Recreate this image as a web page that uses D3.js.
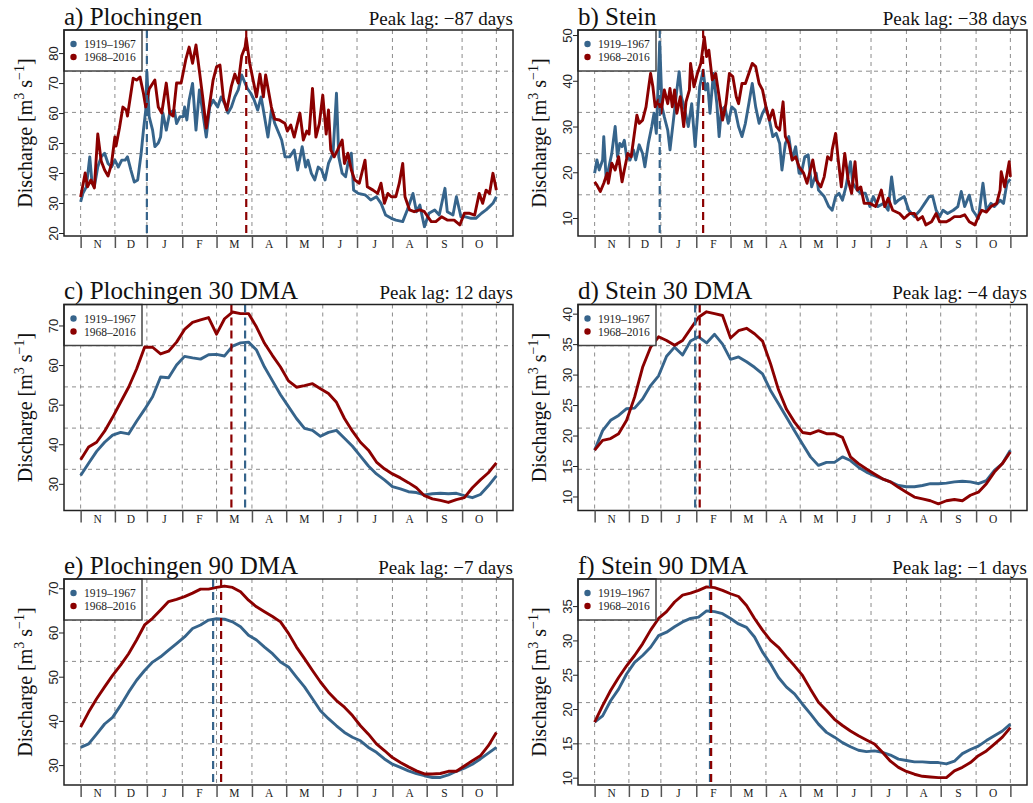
<!DOCTYPE html>
<html>
<head>
<meta charset="utf-8">
<script src="https://cdn.jsdelivr.net/npm/d3@7"></script>
<style>
  body { margin: 0; background: #fff; }
  svg { display: block; font-family: 'Liberation Serif', 'Times New Roman', serif; }
</style>
</head>
<body>
<svg id="chart" width="1033" height="803"></svg>
<script>
// hydrological year: day 1 = 1 Nov, day 365 = 31 Oct
const months = ['N', 'D', 'J', 'F', 'M', 'A', 'M', 'J', 'J', 'A', 'S', 'O'];
const monthBreaks = [1, 31, 59, 90, 120, 151, 181, 213, 243, 274, 304, 335, 365];
const periods = ['1919–1967', '1968–2016'];
const colors = ['#36648B', '#8B0000'];

// raw daily means, [day, discharge]
const plochRawEarly = [[1,30.4],[3,33.2],[6,35.4],[9,45.4],[11,36.6],[13,35.4],[16,42],[19,45.4],[22,46.6],[25,43.2],[28,42],[31,44.3],[34,42],[37,44.3],[40,44.3],[42,45.4],[45,41],[48,37],[51,37.7],[54,46.6],[56,54.3],[58,61],[59,73.8],[61,58.8],[64,54.3],[66,48.8],[69,50],[71,52],[73,60],[76,54.3],[79,60],[83,61],[85,56.5],[88,58.8],[91,58.8],[92,62],[94,57.7],[96,64.3],[99,69.9],[102,54.3],[105,67.7],[108,60],[111,52],[114,62],[117,64.3],[121,62],[124,65.4],[127,63.2],[130,60],[133,62],[136,65.4],[139,67.7],[142,72.7],[145,70],[147,68.2],[150,66.6],[153,64.3],[156,61],[159,65.4],[162,58.8],[165,52],[168,61],[171,56.5],[177,51],[180,45.4],[184,45.4],[188,47.7],[191,41],[195,48.8],[198,42],[200,44.3],[203,39.9],[206,37.7],[209,42],[212,41],[215,37.7],[218,43.2],[222,46.6],[225,66.6],[227,45.4],[230,39.9],[233,38.8],[235,43.2],[238,46.6],[240,34.3],[244,33.2],[250,32.7],[252,32.1],[255,31],[260,32.1],[264,29.9],[268,26],[273,24.9],[277,24.3],[283,23.8],[287,27.7],[292,33.2],[295,27.1],[298,29.3],[302,22.1],[306,26.6],[311,27.7],[315,26],[320,34.9],[322,27.1],[327,26],[330,32.1],[334,25.4],[338,25.4],[343,24.9],[347,24.9],[352,26.6],[356,27.7],[359,28.8],[362,29.9],[365,32.1]];
const plochRawLate = [[1,32],[5,40],[7,35.4],[10,37.7],[13,35],[16,53],[19,44],[22,41],[25,39],[28,43],[31,52],[32,49],[35,55],[38,62],[41,61],[42,59],[47,71.6],[50,71],[53,72],[56,66.6],[58,62],[61,68],[66,71],[69,62],[72,60],[76,70],[79,60],[82,59],[85,70],[89,70],[93,77.7],[96,82],[99,76.6],[102,82.7],[105,74],[108,65],[111,55],[114,63],[117,71],[120,75.4],[123,76],[126,65],[129,61],[133,69],[136,73],[139,70],[142,79],[145,82],[146,85],[149,76.6],[152,71],[155,65.4],[158,73],[161,65.4],[163,72.7],[168,62],[171,58],[175,57.7],[180,56.5],[182,54],[185,56],[188,52],[193,60],[196,51],[199,54],[201,53],[204,68.2],[207,52],[210,56.5],[213,66],[216,53],[218,61],[220,47.7],[223,45.4],[226,47.7],[230,51],[232,43.2],[235,46.6],[238,41],[241,37.7],[245,36.6],[250,44.3],[252,35.4],[257,34.3],[261,33.2],[264,36.6],[267,29.9],[270,33.2],[273,32.1],[277,32.1],[280,36.6],[283,43.2],[285,32.1],[289,27.7],[293,27.1],[298,27.7],[302,27.1],[305,25.4],[308,23.8],[312,23.8],[317,25.4],[322,24.3],[325,24.3],[328,24.3],[333,22.7],[337,26.6],[341,26.6],[346,26],[350,33.2],[353,29.9],[356,34.3],[359,33.2],[362,39.9],[365,34.3]];
const steinRawEarly = [[1,19.8],[3,22.7],[5,20.5],[8,22.7],[9,27.8],[11,19],[13,20.5],[16,24.1],[19,30],[21,23.4],[23,26.3],[25,25.6],[27,27],[29,23.4],[32,22.7],[35,24.9],[37,22.7],[40,26],[43,24.1],[45,21.2],[48,26.3],[51,30],[53,32.9],[55,28.5],[58,48.5],[60,34.3],[62,32.1],[65,29.2],[67,24.9],[70,31.4],[73,38],[75,42],[77,36.5],[80,33.6],[83,30],[86,35],[89,25.6],[91,32.1],[93,38.7],[96,42.3],[98,38],[100,39.4],[102,32.9],[105,41.6],[108,35],[110,27.8],[112,33.6],[115,34.3],[118,30.7],[121,34.3],[124,33.6],[127,30],[130,27.8],[133,30.7],[136,35],[139,39.4],[142,34.3],[145,30.7],[148,32.9],[151,34.3],[154,31.4],[157,27.8],[160,28.5],[163,26.3],[165,20.5],[168,26.3],[171,27.8],[174,22.7],[177,25.6],[180,19.8],[182,19.8],[185,23.4],[188,23.8],[191,16.8],[195,19.8],[197,16.1],[202,14.7],[206,12.5],[209,11.7],[212,14.7],[215,15.4],[218,13.9],[221,16.8],[225,22.3],[227,17.6],[231,16.1],[234,15.4],[238,15.4],[242,12.5],[245,14.7],[249,12.5],[254,13.2],[258,11.7],[261,19],[264,13.2],[267,13.9],[272,14.7],[276,11.7],[281,10.3],[286,11.7],[290,13.2],[294,14.7],[297,14.7],[300,11.7],[303,10.3],[306,11.7],[310,11],[315,11.7],[319,12.5],[322,15.8],[325,12.5],[329,15],[332,11.7],[337,9.9],[341,17.6],[344,11.7],[348,13.2],[351,12.5],[356,13.9],[359,13.2],[362,17.6],[365,18.5]];
const steinRawLate = [[1,17.9],[3,17.2],[6,15.8],[9,17.6],[12,19.8],[13,17.6],[16,22],[19,20.5],[22,23.4],[25,17.9],[27,20.5],[30,24.1],[33,23.4],[35,27],[38,32.5],[40,30.7],[43,31.4],[46,34.3],[48,38],[50,41.6],[52,38.7],[54,34.3],[57,35.8],[59,32.9],[62,38],[65,35],[67,38.3],[69,34.3],[71,38],[73,32.9],[76,36.5],[79,30],[81,35.4],[84,38],[85,43.8],[88,38.7],[91,41.6],[94,43.8],[97,49.6],[99,45.3],[101,46.7],[104,40.2],[107,41.6],[110,36.5],[113,31.4],[116,35],[119,41.6],[122,40.9],[125,36.5],[127,35],[130,39.4],[133,39.4],[136,41.6],[139,43.8],[142,43.1],[145,39.4],[148,38],[151,34.3],[154,31.4],[157,33.6],[160,30],[163,29.2],[166,35.4],[168,27.8],[171,26.3],[174,22.7],[177,23.4],[180,21.2],[184,19.8],[187,17.6],[192,22.7],[195,18.3],[199,16.8],[202,19],[205,23.4],[208,22.7],[209,24.9],[212,28.5],[214,23.4],[217,16.8],[220,24.1],[223,18.3],[226,15.4],[229,22.3],[231,16.1],[234,16.8],[237,13.2],[242,13.2],[247,12.5],[252,16.1],[255,12.5],[258,14.3],[262,11.7],[268,11],[272,9.9],[277,11],[281,11],[284,9.6],[288,10.3],[291,8.5],[296,9.2],[300,11],[303,9.2],[309,9.2],[312,9.6],[316,10.3],[321,10.3],[325,10.7],[329,9.2],[334,8.5],[337,10.3],[340,11.7],[344,11.3],[348,12.5],[353,13.2],[356,16.1],[357,20.1],[360,16.8],[364,22.3],[365,19]];

// moving averages, one value per week (day 1, 8, ..., 365)
const weekDays = d3.range(1, 366, 7);
const ploch30Early = [32.1,35.2,38.2,40.5,42.3,43,42.6,45.8,48.8,52,57,56.8,60,62.2,61.8,61.5,62.6,62.7,62.3,64.8,65.6,65.8,63.8,59.5,56,52.5,49.5,46.5,44,43.5,42,43,43.5,41.5,39.5,37,34.5,32.5,31,29.3,28.7,28,27.8,27.2,27.5,27.6,27.5,27.6,27,26.5,27.3,29.5,32];
const ploch30Late = [36.1,39.3,40.5,43.3,46.8,50.6,54.4,59,64.5,64.5,62.8,63.5,65.8,69,70.8,71.4,72,67.8,71.7,73.4,73,73,69.6,65.5,62.4,59.5,56,54.4,54.8,55.3,54,52.8,50.6,46.5,43.3,40.5,38.5,35.5,33.8,32.5,31.5,30.3,29,27,26.2,25.8,25.3,26,26.5,29,31,32.8,35.3];
const stein30Early = [17.6,20.8,22.5,23.3,24.4,24.5,26,28.2,29.8,33,34.5,33.2,35.5,36.2,35.2,36.6,35,32.5,32.9,32.1,31.2,30.1,27.4,25.2,23,20.8,18.6,16.5,15.1,15.6,15.6,16.5,15.9,14.8,14,13.4,12.9,12.4,11.8,11.6,11.6,11.8,12.1,12.1,12.2,12.4,12.5,12.4,12.1,12.6,14.3,15.4,17.6];
const stein30Late = [17.6,19.2,19.5,20.3,22.5,26.3,31.2,34.5,36.2,35.6,34.8,35.6,37.5,39.4,40.3,40,39.7,36,37.2,37.6,36.7,35.5,31.8,27.5,24.3,22.2,20.5,20.3,20.8,20.3,20.3,19.7,16.5,15.4,14.5,13.7,12.9,12.4,11.5,10.7,9.9,9.6,9.3,8.8,9.3,9.5,9.3,10.2,10.7,12.1,14,15.4,17.3];
const ploch90Early = [34,34.8,37,39.3,40.8,43.5,46.5,49.2,51.4,53.3,54.5,56,57.5,59,60.9,61.7,62.8,63.1,63,62.4,61.3,59.4,58.3,56.7,55.2,53.3,52.2,49.9,47.7,45,42.3,40.5,38.9,37.4,36.3,35.5,34,32.9,31.4,30.2,29.5,28.7,28.1,27.6,27.2,27.2,27.8,28.6,29.3,30.2,31.4,32.7,34];
const ploch90Late = [38.6,42,45,47.7,50.3,52.6,55.2,58.3,61.7,63.2,65.1,67,67.5,68.1,68.9,69.8,69.8,70.2,70.5,70.2,69.2,67.3,65.8,64.7,63.6,62.4,59.8,56.7,54.1,51.4,48.8,46.5,44.6,43.1,41.2,38.9,37,34.8,33.3,31.7,30.6,29.6,28.7,28,28,28.1,28.6,28.6,29.8,31,32.1,34.4,37.4];
const stein90Early = [18.1,19,21.2,22.9,25.1,26.8,27.8,29,30.7,31.2,32,32.7,33.2,33.4,34.3,34.2,33.9,33.2,32.4,31.9,30.5,28.3,26.6,24.6,23.2,22.2,20.7,19.3,17.8,16.6,15.9,15.1,14.5,14,13.8,13.9,13.7,13.3,12.7,12.5,12.3,12.3,12.2,12.2,12,12.4,13.5,14.1,14.6,15.4,16.1,16.8,17.8];
const stein90Late = [18.1,20.5,22.7,24.6,26.3,27.8,29.5,31.5,33.2,34.2,35.6,36.6,36.9,37.3,37.8,37.7,37.3,36.8,36.4,35.1,33.2,31.5,30,29,27.6,26.3,24.9,22.9,21,19.8,18.5,17.6,16.8,16.1,15.5,14.9,13.7,12.4,11.5,10.9,10.5,10.2,10.1,10,10,11,11.5,12.2,13.2,13.9,14.9,15.9,17.3];

const weekly = vals => vals.map((v, i) => [weekDays[i], v]);

const panels = [
  { title: 'a) Plochingen', lag: 'Peak lag: −87 days', col: 0, row: 0,
    series: [plochRawEarly, plochRawLate], yDomain: [19, 87.7], yTicks: [20, 30, 40, 50, 60, 70, 80], peaks: [59, 146] },
  { title: 'b) Stein', lag: 'Peak lag: −38 days', col: 1, row: 0,
    series: [steinRawEarly, steinRawLate], yDomain: [6.07, 51.1], yTicks: [10, 20, 30, 40, 50], peaks: [58, 96] },
  { title: 'c) Plochingen 30 DMA', lag: 'Peak lag: 12 days', col: 0, row: 1,
    series: [weekly(ploch30Early), weekly(ploch30Late)], yDomain: [23.26, 75.3], yTicks: [30, 40, 50, 60, 70], peaks: [145, 133] },
  { title: 'd) Stein 30 DMA', lag: 'Peak lag: −4 days', col: 1, row: 1,
    series: [weekly(stein30Early), weekly(stein30Late)], yDomain: [7.7, 41.5], yTicks: [10, 15, 20, 25, 30, 35, 40], peaks: [89, 93] },
  { title: 'e) Plochingen 90 DMA', lag: 'Peak lag: −7 days', col: 0, row: 2,
    series: [weekly(ploch90Early), weekly(ploch90Late)], yDomain: [25.5, 72.1], yTicks: [30, 40, 50, 60, 70], peaks: [117, 124] },
  { title: 'f) Stein 90 DMA', lag: 'Peak lag: −1 days', col: 1, row: 2,
    series: [weekly(stein90Early), weekly(stein90Late)], yDomain: [8.93, 38.95], yTicks: [10, 15, 20, 25, 30, 35], peaks: [102, 103] }
];

const colX = [64, 578];
const rowY = [30, 304.5, 579];
const boxW = 449;
const boxH = 206;

const svg = d3.select('#chart');

// R-style 4% padding on the day axis
const pad = (365 - 1) * 0.04;
const x = d3.scaleLinear().domain([1 - pad, 365 + pad]).range([0, boxW]);

panels.forEach((p) => {
  const g = svg.append('g')
    .attr('transform', `translate(${colX[p.col]},${rowY[p.row]})`);

  const y = d3.scaleLinear().domain(p.yDomain).range([boxH, 0]);

  // grid
  g.append('g')
    .selectAll('line')
    .data(d3.range(1, 5))
    .enter()
    .append('line')
    .attr('x1', 0)
    .attr('x2', boxW)
    .attr('y1', d => boxH * d / 5)
    .attr('y2', d => boxH * d / 5)
    .attr('stroke', '#8c8c8c')
    .attr('stroke-dasharray', '4,4');

  g.append('g')
    .selectAll('line')
    .data(monthBreaks)
    .enter()
    .append('line')
    .attr('x1', d => x(d))
    .attr('x2', d => x(d))
    .attr('y1', 0)
    .attr('y2', boxH)
    .attr('stroke', '#8c8c8c')
    .attr('stroke-dasharray', '4,4');

  const line = d3.line()
    .x(d => x(d[0]))
    .y(d => y(d[1]));

  g.append('g')
    .selectAll('path')
    .data(p.series)
    .enter()
    .append('path')
    .attr('d', line)
    .attr('fill', 'none')
    .attr('stroke', (d, i) => colors[i])
    .attr('stroke-width', 2.9)
    .attr('stroke-linejoin', 'round');

  // peak markers
  g.append('g')
    .selectAll('line')
    .data(p.peaks)
    .enter()
    .append('line')
    .attr('x1', d => x(d))
    .attr('x2', d => x(d))
    .attr('y1', 0)
    .attr('y2', boxH)
    .attr('stroke', (d, i) => colors[i])
    .attr('stroke-width', 2.2)
    .attr('stroke-dasharray', '8,5');

  // legend
  const lg = g.append('g');
  lg.append('rect')
    .attr('width', 78)
    .attr('height', 41)
    .attr('fill', '#fff')
    .attr('stroke', '#444')
    .attr('stroke-width', 1.5);
  const item = lg.selectAll('g')
    .data(periods)
    .enter()
    .append('g')
    .attr('transform', (d, i) => `translate(0,${14 + i * 13})`);
  item.append('circle')
    .attr('cx', 9.5)
    .attr('r', 3.2)
    .attr('fill', (d, i) => colors[i]);
  item.append('text')
    .attr('x', 20)
    .attr('y', 4)
    .attr('font-size', 11.5)
    .attr('fill', '#222')
    .text(d => d);

  // frame
  g.append('rect')
    .attr('width', boxW)
    .attr('height', boxH)
    .attr('fill', 'none')
    .attr('stroke', '#222')
    .attr('stroke-width', 1.5);

  // y axis, labels parallel to the axis
  const ya = g.append('g')
    .call(d3.axisLeft(y).tickValues(p.yTicks).tickSize(5));
  ya.select('.domain').remove();
  ya.selectAll('line').attr('stroke', '#222');
  ya.selectAll('text')
    .attr('x', 0)
    .attr('y', -6)
    .attr('dy', 0)
    .attr('text-anchor', 'middle')
    .attr('transform', 'rotate(-90)')
    .attr('font-family', null)
    .attr('font-size', 13)
    .attr('fill', '#222');

  // month axis
  const xa = g.append('g')
    .attr('transform', `translate(0,${boxH})`)
    .call(d3.axisBottom(x).tickValues(monthBreaks).tickSize(12).tickFormat(''));
  xa.select('.domain').remove();
  xa.selectAll('line').attr('stroke', '#555').attr('stroke-width', 1.5);

  g.append('g')
    .selectAll('text')
    .data(months)
    .enter()
    .append('text')
    .attr('x', (d, i) => x((monthBreaks[i] + monthBreaks[i + 1]) / 2))
    .attr('y', boxH + 12)
    .attr('text-anchor', 'middle')
    .attr('font-size', 11.5)
    .attr('fill', '#222')
    .text(d => d);

  // y title
  const yt = g.append('text')
    .attr('transform', `translate(-32,${boxH / 2}) rotate(-90)`)
    .attr('text-anchor', 'middle')
    .attr('font-size', 20)
    .attr('fill', '#111');
  yt.append('tspan').text('Discharge [m');
  yt.append('tspan').attr('dy', -8).attr('font-size', 14).text('3');
  yt.append('tspan').attr('dy', 8).text(' s');
  yt.append('tspan').attr('dy', -8).attr('font-size', 14).text('−1');
  yt.append('tspan').attr('dy', 8).text(']');

  // headings
  g.append('text')
    .attr('x', 0)
    .attr('y', -5.5)
    .attr('font-size', 25)
    .attr('fill', '#111')
    .text(p.title);
  g.append('text')
    .attr('x', boxW)
    .attr('y', -5.5)
    .attr('text-anchor', 'end')
    .attr('font-size', 19)
    .attr('fill', '#111')
    .text(p.lag);
});
</script>
</body>
</html>
